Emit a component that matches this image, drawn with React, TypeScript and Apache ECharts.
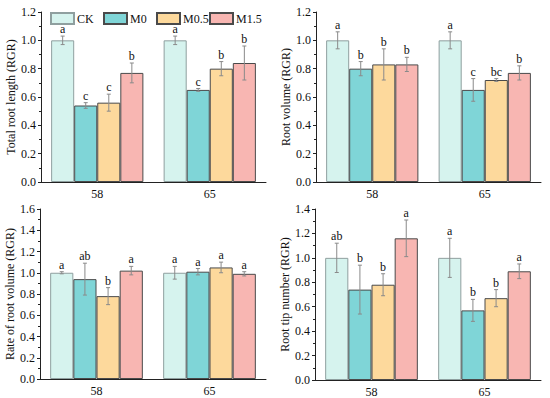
import React, { useEffect, useRef } from "react";
import * as echarts from "echarts";

const categories = ["58", "65"];
const groups = ["CK", "M0", "M0.5", "M1.5"];
const colors = ["#d6f3ee", "#7fd5d7", "#fdd99c", "#f8b6b2"];
const borders = ["#8f9f9f", "#4a4a4a", "#4a4a4a", "#4a4a4a"];

const panelTitles = [
  "Total root length (RGR)",
  "Root volume (RGR)",
  "Rate of root volume (RGR)",
  "Root tip number (RGR)",
];
const panelMax = [1.2, 1.2, 1.6, 1.4];

// values[panel][group] = [cat58, cat65]
const lengthVals = [[1.0, 1.0], [0.54, 0.65], [0.56, 0.8], [0.77, 0.84]];
const lengthErr = [[0.03, 0.03], [0.02, 0.01], [0.06, 0.05], [0.07, 0.12]];
const lengthLetters = [["a", "a"], ["c", "c"], ["c", "b"], ["b", "b"]];

const volumeVals = [[1.0, 1.0], [0.8, 0.65], [0.83, 0.72], [0.83, 0.77]];
const volumeErr = [[0.06, 0.06], [0.05, 0.08], [0.11, 0.01], [0.05, 0.05]];
const volumeLetters = [["a", "a"], ["b", "c"], ["b", "bc"], ["b", "b"]];

const rateVals = [[1.0, 1.0], [0.94, 1.01], [0.78, 1.05], [1.02, 0.99]];
const rateErr = [[0.01, 0.06], [0.15, 0.03], [0.08, 0.05], [0.04, 0.02]];
const rateLetters = [["a", "a"], ["ab", "a"], ["b", "a"], ["a", "a"]];

const tipVals = [[1.0, 1.0], [0.74, 0.57], [0.78, 0.67], [1.16, 0.89]];
const tipErr = [[0.12, 0.16], [0.2, 0.09], [0.09, 0.07], [0.15, 0.06]];
const tipLetters = [["ab", "a"], ["b", "b"], ["b", "b"], ["a", "a"]];

const panelVals = [lengthVals, volumeVals, rateVals, tipVals];
const panelErr = [lengthErr, volumeErr, rateErr, tipErr];
const panelLetters = [lengthLetters, volumeLetters, rateLetters, tipLetters];

const FONT = "Liberation Serif";
const BAR_FRAC = 0.205;

const grids = [
  { left: 41, top: 12, width: 225, height: 170 },
  { left: 316, top: 12, width: 225, height: 170 },
  { left: 40, top: 209, width: 226, height: 170 },
  { left: 315, top: 209, width: 226, height: 171 },
];

export default function App() {
  const ref = useRef<HTMLDivElement>(null);
  useEffect(() => {
    if (!ref.current) return;
    const chart = echarts.init(ref.current, null, { renderer: "svg" });

    const xAxis: any[] = [];
    const yAxis: any[] = [];
    const series: any[] = [];

    grids.forEach((_, p) => {
      xAxis.push({
        type: "category",
        gridIndex: p,
        data: categories,
        axisLine: { lineStyle: { color: "#222", width: 1 } },
        axisTick: { show: false },
        axisLabel: { color: "#111", fontFamily: FONT, fontSize: 12, margin: 6 },
      });
      yAxis.push({
        type: "value",
        gridIndex: p,
        min: 0,
        max: panelMax[p],
        interval: 0.2,
        name: panelTitles[p],
        nameLocation: "middle",
        nameGap: 24,
        nameTextStyle: { color: "#111", fontFamily: FONT, fontSize: 12 },
        axisLine: { show: true, lineStyle: { color: "#222", width: 1 } },
        axisTick: { show: true, length: 3, lineStyle: { color: "#222" } },
        minorTick: { show: true, splitNumber: 2, length: 2, lineStyle: { color: "#222" } },
        splitLine: { show: false },
        axisLabel: {
          color: "#111",
          fontFamily: FONT,
          fontSize: 12,
          margin: 5,
          formatter: (v: number) => v.toFixed(1),
        },
      });
      groups.forEach((g, gi) => {
        series.push({
          type: "bar",
          name: g,
          xAxisIndex: p,
          yAxisIndex: p,
          data: panelVals[p][gi],
          barWidth: BAR_FRAC * 100 + "%",
          barGap: "0%",
          itemStyle: { color: colors[gi], borderColor: borders[gi], borderWidth: 1 },
        });
      });
      const errData: number[][] = [];
      groups.forEach((_, gi) => {
        categories.forEach((__, ci) => {
          errData.push([ci, gi, panelVals[p][gi][ci], panelErr[p][gi][ci]]);
        });
      });
      series.push({
        type: "custom",
        xAxisIndex: p,
        yAxisIndex: p,
        data: errData,
        encode: { x: 0, y: 2 },
        z: 5,
        renderItem: (params: any, api: any) => {
          const ci = api.value(0);
          const gi = api.value(1);
          const v = api.value(2);
          const e = api.value(3);
          const bw = api.size([1, 0])[0] * BAR_FRAC;
          const cx = api.coord([ci, v])[0] + (gi - 1.5) * bw;
          const top = api.coord([ci, v + e])[1];
          const bot = api.coord([ci, v - e])[1];
          const letter = panelLetters[p][gi][ci];
          const st = { stroke: "#8a8a8a", lineWidth: 1 };
          return {
            type: "group",
            children: [
              { type: "line", shape: { x1: cx, y1: top, x2: cx, y2: bot }, style: st },
              { type: "line", shape: { x1: cx - 2, y1: top, x2: cx + 2, y2: top }, style: st },
              { type: "line", shape: { x1: cx - 2, y1: bot, x2: cx + 2, y2: bot }, style: st },
              {
                type: "text",
                x: cx,
                y: top - 1,
                style: {
                  text: letter,
                  fill: "#111",
                  fontFamily: FONT,
                  fontSize: 12,
                  textAlign: "center",
                  textVerticalAlign: "bottom",
                },
              },
            ],
          };
        },
      });
    });

    const legendLefts = [50, 103, 156, 209];
    const legend = groups.map((g, gi) => ({
      data: [{ name: g, icon: "rect" }],
      left: legendLefts[gi],
      top: 12,
      itemWidth: 23,
      itemHeight: 11,
      itemGap: 0,
      padding: 0,
      textStyle: { color: "#111", fontFamily: FONT, fontSize: 12, padding: [0, 0, 0, -2] },
      selectedMode: false,
    }));

    chart.setOption({
      animation: false,
      backgroundColor: "#fff",
      grid: grids.map((g) => ({ ...g, containLabel: false })),
      xAxis,
      yAxis,
      legend,
      series,
    });
    return () => chart.dispose();
  }, []);
  return (
    <div
      ref={ref}
      style={{ position: "fixed", left: 0, top: 0, width: 550, height: 398 }}
    />
  );
}
